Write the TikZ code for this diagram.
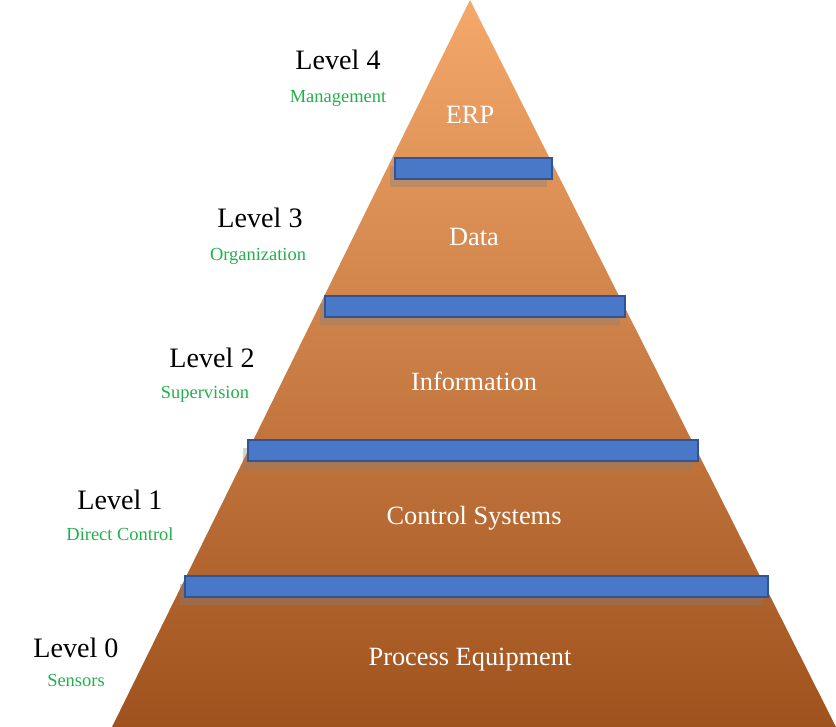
\documentclass[tikz,border=0pt]{standalone}
\usepackage{fontspec}
\setmainfont{Liberation Serif}
\usetikzlibrary{positioning,shadows}
\definecolor{lvgreen}{HTML}{22B04B}
\definecolor{barblue}{HTML}{4A78C8}
\definecolor{bardark}{HTML}{2F5597}
\definecolor{toporange}{HTML}{F4A86A}
\definecolor{midorange}{HTML}{E0782E}
\definecolor{botorange}{HTML}{A0521E}
\tikzset{my_bar/.style={fill=barblue, draw=bardark, thick, drop shadow={shadow xshift=-1mm, shadow yshift=-1.5mm, opacity=0.35}}}
\tikzset{my_level/.style={font=\fontsize{16}{18}\selectfont, text=black}}
\tikzset{my_role/.style={font=\fontsize{10.5}{12}\selectfont, text=lvgreen}}
\tikzset{my_layer/.style={font=\fontsize{15}{18}\selectfont, text=white}}
\begin{document}
\begin{tikzpicture}[x=0.02cm, y=-0.02cm]
    \useasboundingbox (0,0) rectangle (836,727);
    \coordinate (apex) at (470,0);
    \coordinate (bl) at (112,727);
    \coordinate (br) at (836,727);
    \shade[top color=toporange, middle color=midorange, bottom color=botorange]
        (apex) -- (br) -- (bl) -- cycle;
    % bars
    \foreach \y/\l/\r in {158/395/552, 296/325/625, 440/248/698, 576/185/768}
        \draw[my_bar] (\l,\y) rectangle (\r,\y+21);
    % layers
    \node[my_layer] (erp) at (470,115) {ERP};
    \node[my_layer] (data) at (474,237) {Data};
    \node[my_layer] (info) at (474,381) {Information};
    \node[my_layer] (ctrl) at (474,518) {Control Systems};
    \node[my_layer] (proc) at (470,660) {Process Equipment};
    % levels
    \node[my_level] (l4) at (338,60) {Level 4};
    \node[my_role] (r4) at (338,98) {Management};
    \node[my_level] (l3) at (260,218) {Level 3};
    \node[my_role] (r3) at (258,256) {Organization};
    \node[my_level] (l2) at (212,358) {Level 2};
    \node[my_role] (r2) at (205,394) {Supervision};
    \node[my_level] (l1) at (120,500) {Level 1};
    \node[my_role] (r1) at (120,534) {Direct Control};
    \node[my_level] (l0) at (76,648) {Level 0};
    \node[my_role] (r0) at (76,680) {Sensors};
\end{tikzpicture}
\end{document}
